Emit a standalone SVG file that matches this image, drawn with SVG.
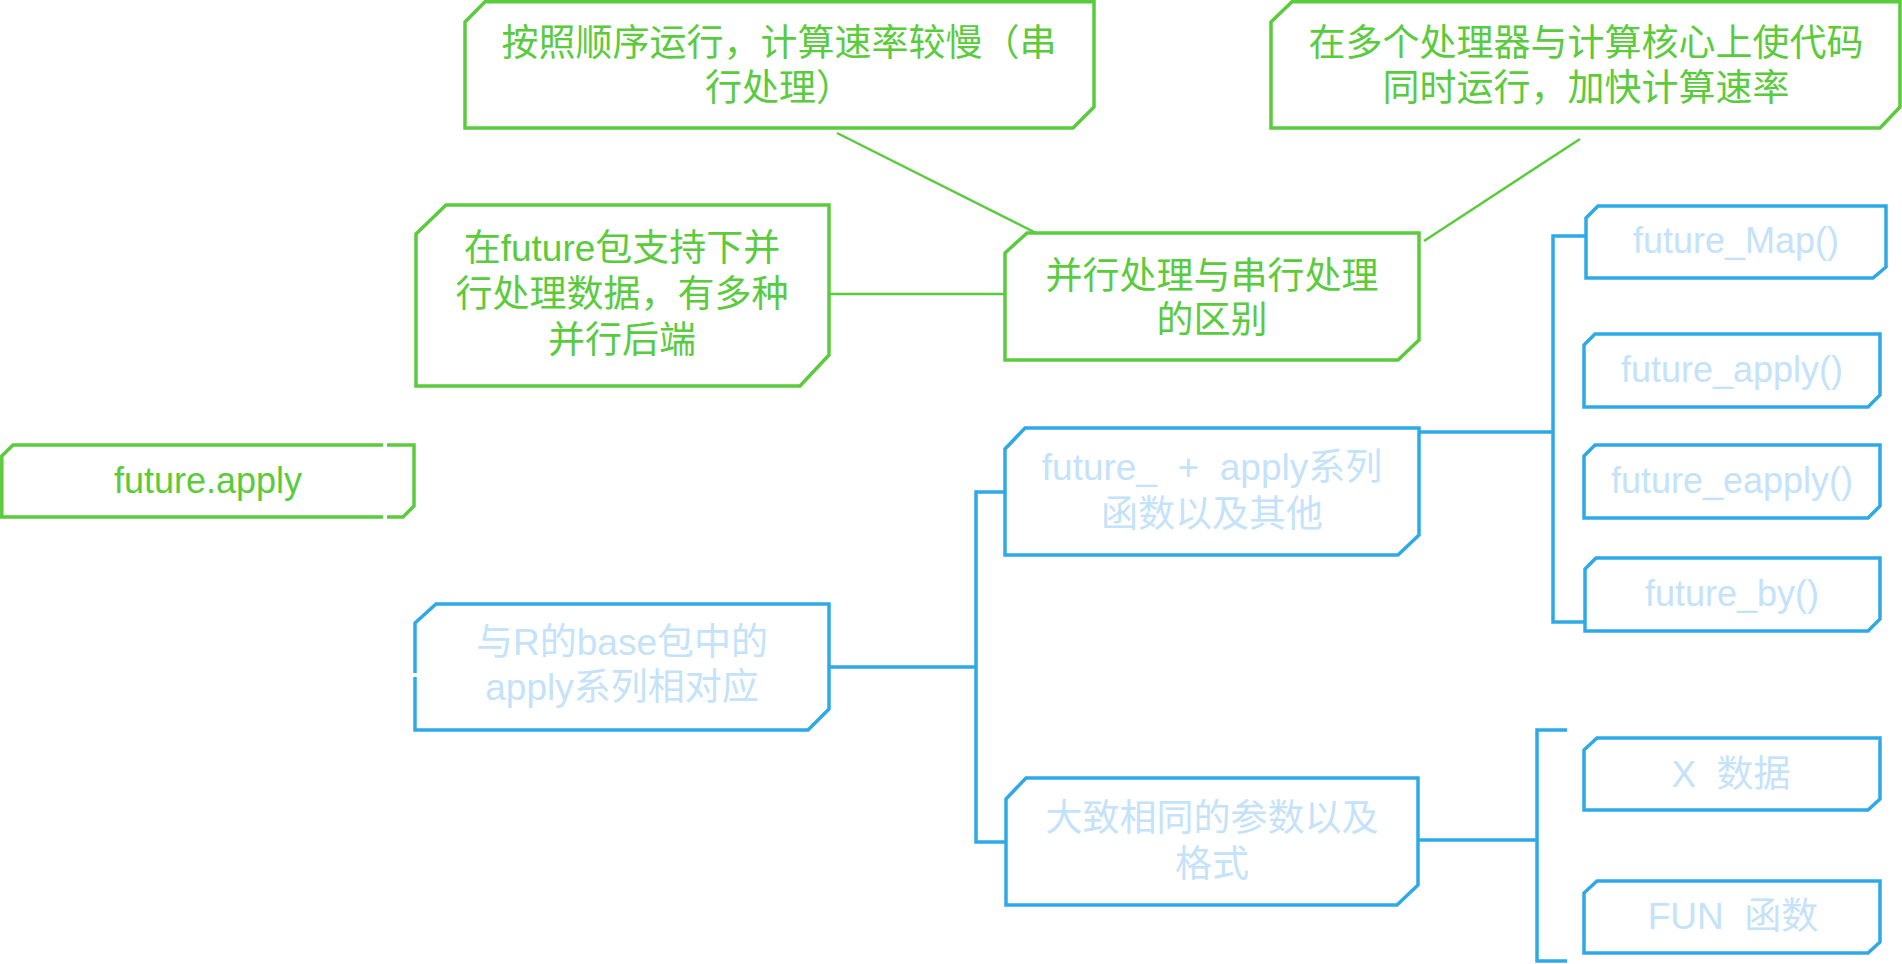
<svg xmlns="http://www.w3.org/2000/svg" width="1902" height="964" viewBox="0 0 1902 964">
<style>
.g{fill:#fff;stroke:#5ACB3C;stroke-width:3.5}
.b{fill:#fff;stroke:#2EA9E8;stroke-width:3.5}
.gl{fill:none;stroke:#5ACB3C;stroke-width:2.5}
.bl{fill:none;stroke:#2EA9E8;stroke-width:3.5}
text{font-family:"Liberation Sans","Noto Sans CJK SC",sans-serif;font-size:37px;text-anchor:middle;white-space:pre}
text.l{font-size:36px}
.gt{fill:#5ACB3C}
.bt{fill:#C4E2FA}
</style>
<rect width="1902" height="964" fill="#fff"/>
<g id="connectors">
<line class="gl" x1="837" y1="133" x2="1040" y2="235"/>
<line class="gl" x1="1580" y1="139" x2="1424" y2="241"/>
<line class="gl" x1="829" y1="294" x2="1005" y2="294"/>
<line class="bl" x1="829" y1="667" x2="976" y2="667"/>
<path class="bl" d="M1005,492 H976 V842 H1005"/>
<line class="bl" x1="1419" y1="432" x2="1553" y2="432"/>
<path class="bl" d="M1586,236 H1553 V622 H1585"/>
<line class="bl" x1="1418" y1="840" x2="1537" y2="840"/>
<path class="bl" d="M1567,730 H1537 V961 H1567"/>
</g>
<g id="n1">
<path class="g" d="M465,22 L485,1.8 H1094 V107 L1073,128 H465 Z"/>
<text class="gt" x="779" y="56">按照顺序运行，计算速率较慢（串</text>
<text class="gt" x="779" y="101">行处理）</text>
</g>
<g id="n2">
<path class="g" d="M1271,22 L1292,1.8 H1900 V107 L1880,128 H1271 Z"/>
<text class="gt" x="1586" y="56">在多个处理器与计算核心上使代码</text>
<text class="gt" x="1586" y="101">同时运行，加快计算速率</text>
</g>
<g id="n3">
<path class="g" d="M416,234 L446,205 H829 V355 L800,386 H416 Z"/>
<text class="gt" x="622" y="261">在future包支持下并</text>
<text class="gt" x="622" y="307">行处理数据，有多种</text>
<text class="gt" x="622" y="353">并行后端</text>
</g>
<g id="n4">
<path class="g" d="M1005,253 L1027,233 H1419 V340 L1398,360 H1005 Z"/>
<text class="gt" x="1212" y="289">并行处理与串行处理</text>
<text class="gt" x="1212" y="333">的区别</text>
</g>
<g id="n5">
<path class="g" d="M1.8,456 L13,445 H414 V506 L403,517 H1.8 Z"/>
<rect x="383" y="442" width="4" height="6" fill="#fff"/>
<rect x="383" y="514" width="4" height="6" fill="#fff"/>
<text class="gt l" x="208" y="493">future.apply</text>
</g>
<g id="n6">
<path class="b" d="M415,623 L436,604 H829 V709 L808,730 H415 Z"/>
<rect x="412" y="673" width="6" height="4" fill="#fff"/>
<text class="bt" x="622" y="655">与R的base包中的</text>
<text class="bt" x="622" y="700">apply系列相对应</text>
</g>
<g id="n7">
<path class="b" d="M1005,449 L1025,428 H1419 V535 L1398,555 H1005 Z"/>
<text class="bt" x="1212" y="480">future_  +  apply系列</text>
<text class="bt" x="1212" y="527">函数以及其他</text>
</g>
<g id="n8">
<path class="b" d="M1006,799 L1026,778 H1418 V885 L1397,905 H1006 Z"/>
<text class="bt" x="1212" y="831">大致相同的参数以及</text>
<text class="bt" x="1212" y="877">格式</text>
</g>
<g id="n9">
<path class="b" d="M1586,218 L1598,206 H1886 V267 L1873,278 H1586 Z"/>
<text class="bt l" x="1736" y="253">future_Map()</text>
</g>
<g id="n10">
<path class="b" d="M1584,345 L1595,334 H1880 V395 L1868,407 H1584 Z"/>
<text class="bt l" x="1732" y="382">future_apply()</text>
</g>
<g id="n11">
<path class="b" d="M1584,456 L1595,445 H1880 V506 L1868,518 H1584 Z"/>
<text class="bt l" x="1732" y="493">future_eapply()</text>
</g>
<g id="n12">
<path class="b" d="M1585,569 L1596,558 H1880 V619 L1868,631 H1585 Z"/>
<text class="bt l" x="1732" y="606">future_by()</text>
</g>
<g id="n13">
<path class="b" d="M1584,750 L1597,738 H1880 V799 L1868,810 H1584 Z"/>
<text class="bt" x="1731" y="787">X  数据</text>
</g>
<g id="n14">
<path class="b" d="M1584,893 L1597,881 H1880 V942 L1868,953 H1584 Z"/>
<text class="bt" x="1733" y="929">FUN  函数</text>
</g>
</svg>
